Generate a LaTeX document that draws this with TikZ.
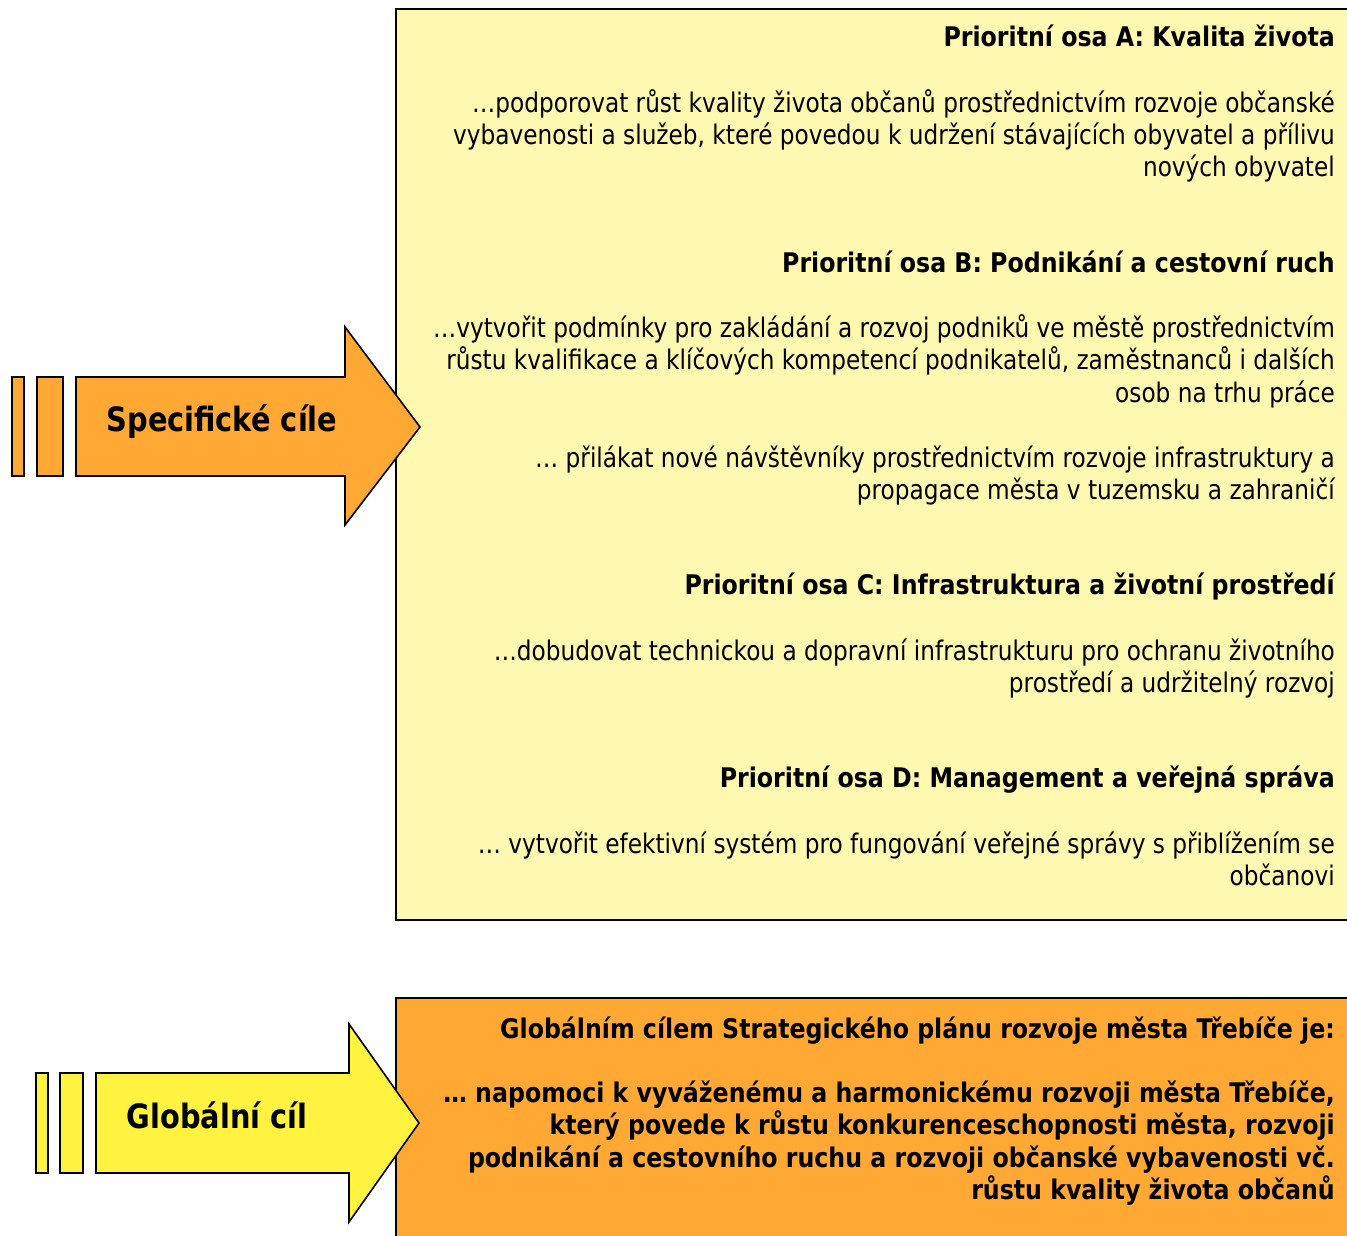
\documentclass[tikz,border=0pt]{standalone}
\usepackage{fontspec}
\setmainfont[FakeStretch=0.86]{DejaVu Sans}
\newfontfamily\headfont[FakeStretch=0.877]{DejaVu Sans}
\definecolor{paleyellow}{HTML}{FFF8B0}
\definecolor{goalorange}{HTML}{FFA834}
\definecolor{arrowyellow}{HTML}{FFF33F}
\tikzset{
  frame/.style={draw=black, line width=1.6pt, line join=miter},
  txt/.style={anchor=base east, align=right, inner sep=0pt, font=\fontsize{27}{32.5}\selectfont},
  head/.style={txt, font=\fontsize{27}{32.5}\headfont\bfseries},
  label/.style={inner sep=0pt, font=\fontsize{33.5}{40}\selectfont\bfseries}
}
\begin{document}
\begin{tikzpicture}[x=1pt,y=-1pt]
\def\R{1335}
\useasboundingbox (0,0) rectangle (1347,1236);

% text boxes
\draw[frame, fill=paleyellow] (396,9) rectangle (1400,920);
\draw[frame, fill=goalorange] (396,998) rectangle (1400,1300);

% arrow: specificke cile
\foreach \a/\b in {12/24, 37/63}
  \draw[frame, fill=goalorange] (\a,377) rectangle (\b,476);
\draw[frame, fill=goalorange] (76,377) -- (345,377) -- (345,327) -- (420,427)
  -- (345,525) -- (345,476) -- (76,476) -- cycle;
\node[label] (spec) at (222,422) {Specifické cíle};

% arrow: globalni cil
\foreach \a/\b in {36/48, 60/83}
  \draw[frame, fill=arrowyellow] (\a,1073) rectangle (\b,1173);
\draw[frame, fill=arrowyellow] (96,1073) -- (349,1073) -- (349,1024) -- (419,1123)
  -- (349,1222) -- (349,1173) -- (96,1173) -- cycle;
\node[label] (glob) at (217,1115) {Globální cíl};

% priority axes (multi-line nodes sit on their last line)
\node[head] (headA) at (\R,47) {Prioritní osa A: Kvalita života};
\node[txt] (textA) at (\R,177) {…podporovat růst kvality života občanů prostřednictvím rozvoje občanské\\
  vybavenosti a služeb, které povedou k udržení stávajících obyvatel a přílivu\\
  nových obyvatel};

\node[head] (headB) at (\R,272) {Prioritní osa B: Podnikání a cestovní ruch};
\node[txt] (textB) at (\R,402) {…vytvořit podmínky pro zakládání a rozvoj podniků ve městě prostřednictvím\\
  růstu kvalifikace a klíčových kompetencí podnikatelů, zaměstnanců i dalších\\
  osob na trhu práce};
\node[txt] (textB2) at (\R,499.5) {… přilákat nové návštěvníky prostřednictvím rozvoje infrastruktury a\\
  propagace města v tuzemsku a zahraničí};

\node[head] (headC) at (\R,594) {Prioritní osa C: Infrastruktura a životní prostředí};
\node[txt] (textC) at (\R,692.5) {…dobudovat technickou a dopravní infrastrukturu pro ochranu životního\\
  prostředí a udržitelný rozvoj};

\node[head] (headD) at (\R,787) {Prioritní osa D: Management a veřejná správa};
\node[txt] (textD) at (\R,885.5) {… vytvořit efektivní systém pro fungování veřejné správy s přiblížením se\\
  občanovi};

% global goal
\node[head] (headG) at (\R,1038) {Globálním cílem Strategického plánu rozvoje města Třebíče je:};
\node[head] (textG) at (\R,1199.5) {… napomoci k vyváženému a harmonickému rozvoji města Třebíče,\\
  který povede k růstu konkurenceschopnosti města, rozvoji\\
  podnikání a cestovního ruchu a rozvoji občanské vybavenosti vč.\\
  růstu kvality života občanů};
\end{tikzpicture}
\end{document}
